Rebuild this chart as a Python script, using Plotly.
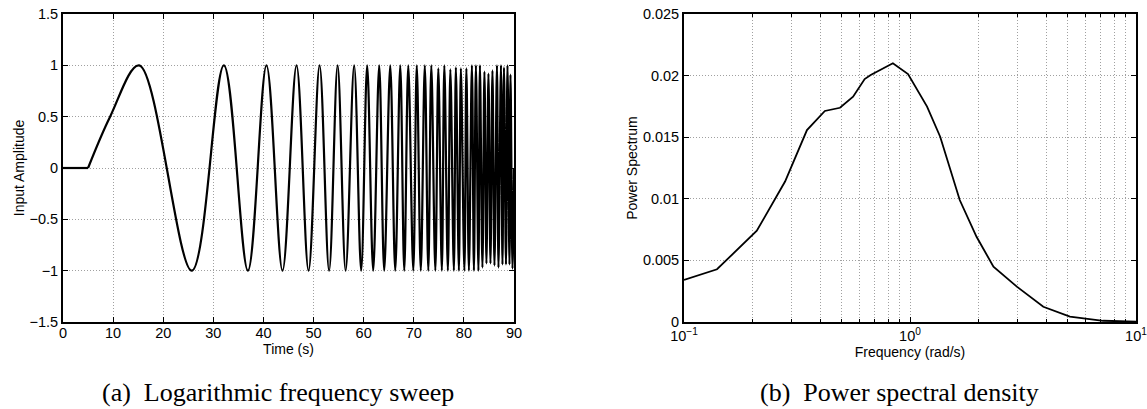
import plotly.graph_objects as go

lead_t = [0, 5]
lead_y = [0, 0]

sweep_t = [5, 9.4, 15.2, 25.7, 32.1, 36.9, 40.6, 43.8, 46.6, 49.0, 51.2, 53.1,
           54.8, 56.4, 58.1, 59.5, 60.7, 61.9, 63.1, 64.1, 65.3, 66.3, 67.3,
           68.1, 68.9, 69.9, 70.6, 71.4, 72.2, 72.9, 73.5, 74.3, 74.9, 75.6,
           76.1, 76.8, 77.3, 78.0, 78.4, 79.0, 79.4, 80.1, 80.5, 81.0, 81.6,
           82.0, 82.4, 82.9, 83.2, 83.7, 84.1, 84.5, 84.9, 85.3, 85.7, 86.1,
           86.6, 86.9, 87.4, 87.7, 88.0, 88.4, 88.7, 89.1, 89.3, 89.7, 90.0]
sweep_y = [0, 0.5, 1, -1, 1, -1, 1, -1, 1, -1, 1, -1,
           1, -1, 1, -1, 1, -1, 1, -1, 1, -1, 1,
           -1, 1, -1, 1, -1, 1, -1, 1, -1, 0.97, -1,
           1, -1, 0.96, -1, 0.98, -1, 0.97, -1, 0.97, -1, 1,
           -1, 1, -1, 1, -0.97, 0.94, -0.93, 0.92, -0.93, 0.95, -0.95,
           1, -0.97, 1, -0.94, 0.98, -0.94, 1, -0.94, 0.91, -0.98, 0]

# ---- Data: power spectral density ----
psd_f = [0.1, 0.14, 0.21, 0.28, 0.35, 0.42, 0.49, 0.56, 0.63, 0.67, 0.84,
         0.98, 1.19, 1.36, 1.66, 1.97, 2.34, 2.97, 3.89, 5.1, 7.16, 10.0]
psd_p = [0.00341, 0.00428, 0.00741, 0.0114, 0.01558, 0.01713, 0.01739,
         0.01829, 0.01972, 0.02005, 0.0210, 0.02013, 0.01748, 0.01504,
         0.0099, 0.00692, 0.00449, 0.00287, 0.00124, 0.00043, 0.0001, 0.00002]

W, H = 1147, 409
xa = [63 / W, 514 / W]
xb = [684 / W, 1136 / W]
yd = [1 - 322 / H, 1 - 14 / H]

fig = go.Figure()
fig.add_trace(go.Scatter(x=lead_t, y=lead_y, mode="lines",
                         line=dict(color="black", width=2.2), xaxis="x", yaxis="y",
                         showlegend=False))
fig.add_trace(go.Scatter(x=sweep_t, y=sweep_y, mode="lines",
                         line=dict(color="black", width=2.2, shape="spline", smoothing=1),
                         xaxis="x", yaxis="y", showlegend=False))
fig.add_trace(go.Scatter(x=psd_f, y=psd_p, mode="lines",
                         line=dict(color="black", width=1.8), xaxis="x2", yaxis="y2",
                         showlegend=False))

tickfont = dict(family="Liberation Sans, Arial, sans-serif", size=14.5, color="black")
titlefont = dict(family="Liberation Sans, Arial, sans-serif", size=14, color="black")
GRIDC = "#a0a0a0"
GRIDDASH = "1px,2px"
grid = dict(showgrid=True, gridcolor=GRIDC, gridwidth=1, griddash=GRIDDASH,
            zeroline=False, showline=True, linecolor="black", linewidth=1.8,
            mirror="allticks", ticks="inside", ticklen=5, tickcolor="black",
            tickfont=tickfont, automargin=False, ticklabeloverflow="allow")

minor_vals = [m * 10 ** e for e in (-1, 0) for m in range(2, 10)]

fig.update_layout(
    width=W, height=H, margin=dict(l=0, r=0, t=0, b=0),
    paper_bgcolor="white", plot_bgcolor="white",
    xaxis=dict(domain=xa, range=[0, 90], tickmode="linear", tick0=0, dtick=10,
               ticklabelstandoff=-3,
               anchor="y", title=dict(text="Time (s)", font=titlefont, standoff=0), **grid),
    yaxis=dict(domain=yd, range=[-1.5, 1.5], tickmode="linear", tick0=-1.5, dtick=0.5,
               anchor="x", title=dict(text="Input Amplitude", font=titlefont, standoff=2), **grid),
    xaxis2=dict(domain=xb, type="log", range=[-1, 1], tickmode="array",
                tickvals=[0.1, 1, 10],
                ticktext=["10<sup>\u22121</sup>", "10<sup>0</sup>", "10<sup>1</sup>"],
                ticklabelstandoff=0,
                minor=dict(tickmode="array", tickvals=minor_vals, ticks="inside",
                           ticklen=3, tickcolor="black", showgrid=True,
                           gridcolor=GRIDC, gridwidth=1, griddash=GRIDDASH),
                anchor="y2", title=dict(text="Frequency (rad/s)", font=titlefont, standoff=0),
                **grid),
    yaxis2=dict(domain=yd, range=[0, 0.025], tickmode="linear", tick0=0, dtick=0.005,
                anchor="x2", title=dict(text="Power Spectrum", font=titlefont, standoff=2),
                **grid),
    annotations=[
        dict(text="(a)  Logarithmic frequency sweep", xref="paper", yref="paper",
             x=278 / W, y=1 - 392 / H, showarrow=False, xanchor="center", yanchor="middle",
             font=dict(family="Liberation Serif, Times New Roman, serif", size=26, color="black")),
        dict(text="(b)  Power spectral density", xref="paper", yref="paper",
             x=899 / W, y=1 - 392 / H, showarrow=False, xanchor="center", yanchor="middle",
             font=dict(family="Liberation Serif, Times New Roman, serif", size=26, color="black")),
    ],
)

fig.write_html("out.html")
